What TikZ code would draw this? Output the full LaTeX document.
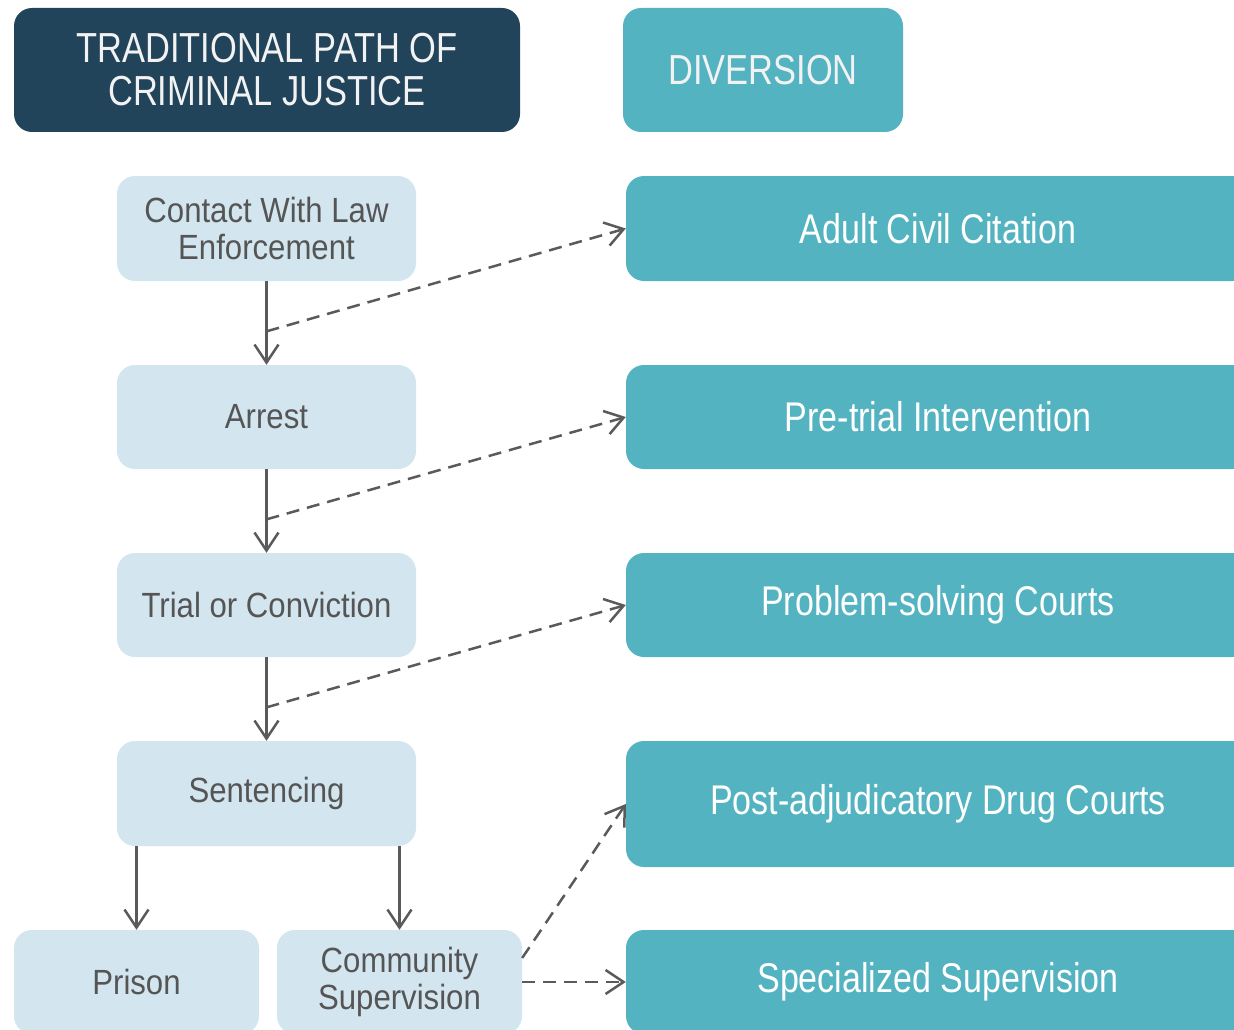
\documentclass[tikz,border=0pt]{standalone}
\usepackage{fontspec}
\setmainfont{Liberation Sans}
\newfontfamily\stepfont{Liberation Sans}[FakeStretch=0.89]
\newfontfamily\divfont{Liberation Sans}[FakeStretch=0.82]
\usetikzlibrary{arrows.meta,calc}

\definecolor{navy}{HTML}{22445A}
\definecolor{teal}{HTML}{53B3C0}
\definecolor{paleblue}{HTML}{D3E5EF}
\definecolor{inkgray}{HTML}{555555}
\definecolor{linegray}{HTML}{5A5A5A}

\tikzset{
  box/.style={rectangle, rounded corners=18pt, inner sep=0pt, align=center},
  header/.style={box, fill=navy, text=white!95!black,
    font=\divfont\fontsize{42}{43}\selectfont},
  divheader/.style={box, fill=teal, text=white!95!black,
    font=\divfont\fontsize{42}{43}\selectfont},
  stepbox/.style={box, fill=paleblue, text=inkgray,
    font=\stepfont\fontsize{35}{37}\selectfont},
  optbox/.style={box, fill=teal, text=white,
    font=\divfont\fontsize{41.5}{43}\selectfont},
  flow/.style={draw=linegray, line width=2.5pt,
    -{Straight Barb[length=18pt,width=24pt]}},
  divert/.style={flow, dash pattern=on 13pt off 8pt},
}

\begin{document}
\begin{tikzpicture}[x=1pt, y=-1pt]
\useasboundingbox (0,0) rectangle (1234,1030);
\clip (0,0) rectangle (1234,1030);

% column headings
\node[header, minimum width=506pt, minimum height=124pt] (trad) at (267,70)
  {TRADITIONAL PATH OF\\CRIMINAL JUSTICE};
\node[divheader, minimum width=280pt, minimum height=124pt] (div) at (763,70)
  {DIVERSION};

% traditional path
\node[stepbox, minimum width=299pt, minimum height=105pt] (contact) at (266.5,228.5)
  {Contact With Law\\Enforcement};
\node[stepbox, minimum width=299pt, minimum height=104pt] (arrest) at (266.5,417)
  {Arrest};
\node[stepbox, minimum width=299pt, minimum height=104pt] (trial) at (266.5,605)
  {Trial or Conviction};
\node[stepbox, minimum width=299pt, minimum height=105pt] (sent) at (266.5,793.5)
  {Sentencing};
\node[stepbox, minimum width=245pt, minimum height=104pt] (prison) at (136.5,982)
  {Prison};
\node[stepbox, minimum width=245pt, minimum height=104pt] (comm) at (399.5,982)
  {Community\\Supervision};

% diversion options
\node[optbox, minimum width=624pt, minimum height=105pt] (acc) at (938,228.5)
  {Adult Civil Citation};
\node[optbox, minimum width=624pt, minimum height=104pt] (pti) at (938,417)
  {Pre-trial Intervention};
\node[optbox, minimum width=624pt, minimum height=104pt] (psc) at (938,605)
  {Problem-solving Courts};
\node[optbox, minimum width=624pt, minimum height=126pt] (padc) at (938,804)
  {Post-adjudicatory Drug Courts};
\node[optbox, minimum width=624pt, minimum height=104pt] (spec) at (938,982)
  {Specialized Supervision};

% branch points on the main path
\coordinate (b1) at ($(contact.south)!0.6!(arrest.north)$);
\coordinate (b2) at ($(arrest.south)!0.6!(trial.north)$);
\coordinate (b3) at ($(trial.south)!0.6!(sent.north)$);
\coordinate (c1) at ($(comm.east)+(0,-24)$);

% main path
\draw[flow] (contact) -- (arrest);
\draw[flow] (arrest) -- (trial);
\draw[flow] (trial) -- (sent);
\draw[flow] (prison.north |- sent.south) -- (prison.north);
\draw[flow] (comm.north |- sent.south) -- (comm.north);

% diversion routes
\draw[divert] (b1) -- (acc.west);
\draw[divert] (b2) -- (pti.west);
\draw[divert] (b3) -- (psc.west);
\draw[divert] (c1) -- (padc.west);
\draw[divert] (comm.east) -- (spec.west);
\end{tikzpicture}
\end{document}
